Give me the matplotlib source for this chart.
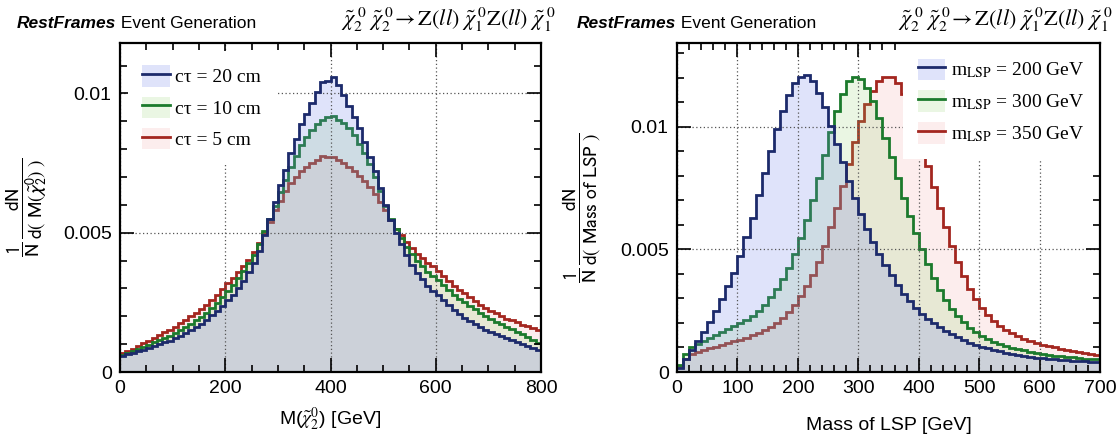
import matplotlib
matplotlib.use("Agg")
import matplotlib.pyplot as plt
import numpy as np
from matplotlib.patches import Patch
from matplotlib.lines import Line2D
from matplotlib.ticker import MultipleLocator, FuncFormatter

plt.rcParams['font.family'] = ['Liberation Sans', 'DejaVu Sans']
plt.rcParams['mathtext.fontset'] = 'stix'

# ---- left panel: M(chi2) for three lifetimes, 10 GeV bins from 0 to 800 (units of 1e-3)
m_edges = np.arange(0, 810, 10)
ct20 = [0.58, 0.63, 0.68, 0.74, 0.80, 0.86, 0.92, 0.99, 1.06, 1.13,
        1.21, 1.30, 1.39, 1.50, 1.61, 1.74, 1.87, 2.03, 2.20, 2.38,
        2.57, 2.78, 3.02, 3.28, 3.58, 3.92, 4.35, 4.90, 5.50, 6.10,
        6.70, 7.25, 7.85, 8.35, 8.90, 9.25, 9.65, 10.05, 10.40, 10.45,
        10.60, 10.30, 9.95, 9.55, 9.15, 8.75, 8.25, 7.70, 7.20, 6.60,
        6.00, 5.45, 5.00, 4.60, 4.20, 3.85, 3.55, 3.35, 3.10, 2.90,
        2.75, 2.58, 2.40, 2.24, 2.08, 1.95, 1.84, 1.72, 1.63, 1.52,
        1.45, 1.37, 1.30, 1.22, 1.15, 1.08, 1.00, 0.93, 0.86, 0.78]
ct10 = [0.62, 0.68, 0.75, 0.82, 0.90, 0.98, 1.06, 1.14, 1.22, 1.31,
        1.40, 1.50, 1.60, 1.72, 1.85, 1.98, 2.13, 2.30, 2.48, 2.68,
        2.90, 3.12, 3.36, 3.62, 3.90, 4.20, 4.60, 5.05, 5.50, 5.95,
        6.45, 6.90, 7.35, 7.75, 8.15, 8.45, 8.70, 8.90, 9.05, 9.15,
        9.20, 9.05, 8.95, 8.75, 8.50, 8.20, 7.85, 7.45, 7.00, 6.50,
        5.95, 5.50, 5.15, 4.80, 4.50, 4.25, 4.00, 3.80, 3.60, 3.45,
        3.30, 3.12, 2.95, 2.78, 2.62, 2.50, 2.38, 2.25, 2.12, 2.00,
        1.90, 1.80, 1.71, 1.62, 1.53, 1.45, 1.36, 1.26, 1.16, 1.05]
ct5 = [0.67, 0.75, 0.84, 0.93, 1.03, 1.13, 1.23, 1.32, 1.42, 1.52,
       1.63, 1.75, 1.88, 2.00, 2.13, 2.27, 2.42, 2.58, 2.78, 2.98,
       3.18, 3.38, 3.58, 3.80, 4.02, 4.30, 4.62, 5.00, 5.40, 5.80,
       6.15, 6.50, 6.80, 7.00, 7.20, 7.35, 7.50, 7.60, 7.75, 7.72,
       7.70, 7.60, 7.50, 7.35, 7.20, 7.05, 6.85, 6.65, 6.40, 6.10,
       5.80, 5.45, 5.15, 4.90, 4.65, 4.45, 4.25, 4.08, 3.92, 3.80,
       3.62, 3.45, 3.28, 3.10, 2.95, 2.82, 2.68, 2.55, 2.42, 2.30,
       2.20, 2.10, 2.00, 1.92, 1.85, 1.78, 1.70, 1.64, 1.58, 1.52]

# ---- right panel: mass of LSP, 10 GeV bins from 0 to 700 (units of 1e-3)
lsp_edges = np.arange(0, 710, 10)
lsp200 = [0.18, 0.55, 0.90, 1.25, 1.62, 2.05, 2.50, 2.98, 3.50, 4.05,
          4.75, 5.50, 6.30, 7.20, 8.10, 9.00, 9.90, 10.65, 11.30, 11.80,
          12.05, 12.10, 11.85, 11.40, 10.80, 10.05, 9.30, 8.55, 7.80, 7.10,
          6.45, 5.85, 5.30, 4.80, 4.35, 3.95, 3.55, 3.20, 2.90, 2.62,
          2.38, 2.17, 1.98, 1.82, 1.67, 1.53, 1.41, 1.30, 1.20, 1.11,
          1.03, 0.96, 0.90, 0.84, 0.79, 0.74, 0.70, 0.66, 0.62, 0.59,
          0.56, 0.54, 0.51, 0.49, 0.47, 0.46, 0.44, 0.43, 0.42, 0.40]
lsp300 = [0.30, 0.75, 1.00, 1.15, 1.28, 1.40, 1.52, 1.63, 1.74, 1.86,
          1.98, 2.13, 2.30, 2.50, 2.75, 3.05, 3.40, 3.80, 4.25, 4.80,
          5.45, 6.20, 7.00, 7.90, 8.85, 9.80, 10.65, 11.35, 11.85, 12.05,
          11.95, 11.60, 11.05, 10.35, 9.55, 8.75, 7.90, 7.10, 6.35, 5.65,
          5.00, 4.40, 3.85, 3.35, 2.92, 2.58, 2.28, 2.02, 1.80, 1.62,
          1.47, 1.34, 1.23, 1.14, 1.06, 0.99, 0.93, 0.88, 0.83, 0.78,
          0.74, 0.71, 0.67, 0.64, 0.62, 0.60, 0.57, 0.55, 0.53, 0.51]
lsp350 = [0.22, 0.55, 0.72, 0.82, 0.90, 0.97, 1.04, 1.11, 1.18, 1.25,
          1.32, 1.40, 1.49, 1.59, 1.70, 1.84, 2.00, 2.20, 2.45, 2.75,
          3.10, 3.50, 3.95, 4.50, 5.15, 5.90, 6.70, 7.60, 8.50, 9.40,
          10.25, 10.95, 11.45, 11.85, 12.05, 12.05, 11.80, 11.35, 10.80, 10.10,
          9.25, 8.40, 7.55, 6.70, 5.90, 5.15, 4.50, 3.90, 3.40, 2.97,
          2.62, 2.32, 2.07, 1.87, 1.71, 1.58, 1.46, 1.36, 1.27, 1.19,
          1.12, 1.06, 1.00, 0.95, 0.90, 0.86, 0.82, 0.78, 0.74, 0.70]

left_labels = ['cτ = 20 cm', 'cτ = 10 cm', 'cτ = 5 cm']
right_labels = [r'm$_{\mathrm{LSP}}$ = 200 GeV', r'm$_{\mathrm{LSP}}$ = 300 GeV',
                r'm$_{\mathrm{LSP}}$ = 350 GeV']

line_colors = ['#1c2a6b', '#1b7a2c', '#a3261f']
fill_colors = ['#6e82eb', '#8cd264', '#f08c8c']
fill_alpha = [0.22, 0.18, 0.15]

title_tex = (r'$\tilde{\chi}_{2}^{\;0}\ \tilde{\chi}_{2}^{\;0}\!\rightarrow \mathrm{Z}(\mathit{ll})\ '
             r'\tilde{\chi}_{1}^{\;0}\mathrm{Z}(\mathit{ll})\ \tilde{\chi}_{1}^{\;0}$')

fig = plt.figure(figsize=(11.18, 4.36), dpi=100)
W, H = 1118.0, 436.0
ax1 = fig.add_axes([120 / W, 1 - 372 / H, 421 / W, 329 / H])
ax2 = fig.add_axes([677 / W, 1 - 372 / H, 423 / W, 329 / H])


def draw_panel(ax, edges, series, labels, xmax, ymax, xmaj, xmin, legend_loc, anchor, bap):
    # ROOT-like drawing order: red first, blue last (blue fill lies over the others)
    items = list(zip(series, line_colors, fill_colors, fill_alpha))
    for k, (vals, lc, fc, a) in enumerate(reversed(items)):
        v = np.array(vals) * 1e-3
        ax.stairs(v, edges, fill=True, color=fc, alpha=a, lw=0, zorder=2 + 0.2 * k)
        ax.stairs(v, edges, baseline=None, color=lc, lw=2,
                  zorder=2.1 + 0.2 * k if k < 2 else 3)
    handles = [(Patch(facecolor=fc, alpha=a, edgecolor='none'), Line2D([], [], color=lc, lw=2))
               for vals, lc, fc, a in items]
    ax.set_xlim(0, xmax)
    ax.set_ylim(0, ymax)
    ax.xaxis.set_major_locator(MultipleLocator(xmaj))
    ax.xaxis.set_minor_locator(MultipleLocator(xmin))
    ax.yaxis.set_major_locator(MultipleLocator(0.005))
    ax.yaxis.set_minor_locator(MultipleLocator(0.001))
    ax.yaxis.set_major_formatter(FuncFormatter(lambda v, p: f'{v:g}'))
    ax.xaxis.set_major_formatter(FuncFormatter(lambda v, p: f'{v:g}'))
    ax.tick_params(which='both', direction='in', top=True, right=True,
                   labelsize=14, width=1.2, pad=6)
    ax.tick_params(which='major', length=10)
    ax.tick_params(which='minor', length=5)
    for s in ax.spines.values():
        s.set_linewidth(1.6)
        s.set_zorder(6)
    ax.set_axisbelow(False)
    ax.grid(True, which='major', linestyle=(0, (1, 2)), color='#555555', lw=0.9)
    for gl in ax.get_xgridlines() + ax.get_ygridlines():
        gl.set_zorder(2.9)
    leg = ax.legend(handles, labels, loc=legend_loc, bbox_to_anchor=anchor,
                    prop={'family': 'Liberation Serif', 'size': 14},
                    frameon=True, facecolor='white', edgecolor='none', framealpha=1,
                    fancybox=False, handlelength=1.4, handleheight=1.3,
                    labelspacing=0.52, handletextpad=0.3, borderpad=0.75,
                    borderaxespad=bap)
    leg.set_zorder(5)


draw_panel(ax1, m_edges, [ct20, ct10, ct5], left_labels, 800, 0.01181, 200, 50,
           'upper left', (0.0, 1.0), 0.4)
draw_panel(ax2, lsp_edges, [lsp200, lsp300, lsp350], right_labels, 700, 0.01342, 100, 20,
           'upper right', (1.0, 1.0), 0.05)

ax1.set_xlabel(r'M($\tilde{\chi}_{2}^{0}$) [GeV]', fontsize=14, labelpad=6)
ax2.set_xlabel('Mass of LSP [GeV]', fontsize=14, labelpad=14)
ax1.set_ylabel(r'$\dfrac{1}{\mathrm{N}}\,\dfrac{\mathrm{dN}}{\mathrm{d(\ M(}\tilde{\chi}_{2}^{0}\mathrm{)\ )}}$',
               fontsize=14, labelpad=10, math_fontfamily='stixsans')
ax2.set_ylabel(r'$\dfrac{1}{\mathrm{N}}\,\dfrac{\mathrm{dN}}{\mathrm{d(\ Mass\ of\ LSP\ )}}$',
               fontsize=14, labelpad=12, math_fontfamily='stixsans')

for x0, x1 in [(17, 556), (577, 1113)]:
    t = fig.text(x0 / W, 1 - 28 / H, 'RestFrames', fontsize=12.5,
                 fontweight='bold', fontstyle='italic', va='baseline')
    ax1.annotate(' Event Generation', xy=(1, 0), xycoords=t, fontsize=12.5,
                 va='bottom', ha='left', annotation_clip=False)
    fig.text(x1 / W, 1 - 26 / H, title_tex, fontsize=16, ha='right', va='baseline')

fig.savefig('out.png', dpi=100)
